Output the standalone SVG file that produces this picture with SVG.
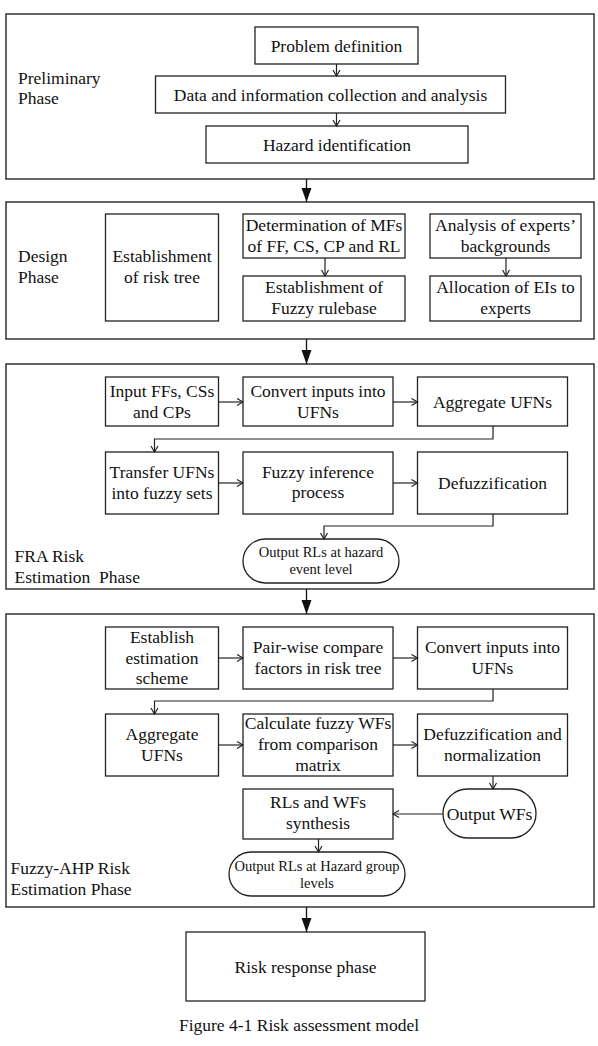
<svg xmlns="http://www.w3.org/2000/svg" width="598" height="1046" viewBox="0 0 598 1046">
<style>
text{font-family:"Liberation Serif","Times New Roman",serif;fill:#111;font-size:17.5px}
.c{text-anchor:middle}
.s{font-size:14.5px}
.ph{fill:none;stroke:#333;stroke-width:1.5}
.bx{fill:#fff;stroke:#222;stroke-width:1.3}
.cn{fill:none;stroke:#222;stroke-width:1.2}
.big{fill:none;stroke:#111;stroke-width:1.3}
</style>
<defs>
<marker id="open" viewBox="-8 -5 9 10" refX="0" refY="0" markerWidth="9" markerHeight="10" markerUnits="userSpaceOnUse" orient="auto">
<path d="M-6,-3.5 L0,0 L-6,3.5" fill="none" stroke="#222" stroke-width="1.2"/>
</marker>
<marker id="solid" viewBox="-15 -6 16 12" refX="0" refY="0" markerWidth="16" markerHeight="12" markerUnits="userSpaceOnUse" orient="auto">
<path d="M-14,-5 L0,0 L-14,5 Z" fill="#111"/>
</marker>
</defs>

<g id="phase-preliminary">
<rect class="ph" x="6" y="14" width="588" height="165"/>
<text x="18" y="84">Preliminary</text>
<text x="18" y="104">Phase</text>
</g>
<g id="phase-design">
<rect class="ph" x="6" y="202" width="588" height="137"/>
<text x="18" y="262">Design</text>
<text x="18" y="283">Phase</text>
</g>
<g id="phase-fra">
<rect class="ph" x="6" y="364" width="588" height="225"/>
<text x="14.5" y="562">FRA Risk</text>
<text x="14.5" y="583" style="white-space:pre">Estimation  Phase</text>
</g>
<g id="phase-ahp">
<rect class="ph" x="6" y="614" width="588" height="293"/>
<text x="10.5" y="874">Fuzzy-AHP Risk</text>
<text x="10.5" y="895">Estimation Phase</text>
</g>

<g id="n-problem"><rect class="bx" x="255" y="27" width="163" height="37"/><text class="c" x="336.5" y="51.5">Problem definition</text></g>
<g id="n-data"><rect class="bx" x="155.5" y="76" width="350" height="37"/><text class="c" x="330.5" y="101">Data and information collection and analysis</text></g>
<g id="n-hazard"><rect class="bx" x="206" y="126" width="262" height="37"/><text class="c" x="337" y="150.5">Hazard identification</text></g>

<g id="n-risktree"><rect class="bx" x="105.5" y="214" width="113" height="107"/><text class="c" x="162" y="262">Establishment</text><text class="c" x="162" y="283">of risk tree</text></g>
<g id="n-mfs"><rect class="bx" x="243" y="214" width="162" height="44"/><text class="c" x="324" y="230.5">Determination of MFs</text><text class="c" x="324" y="251.5">of FF, CS, CP and RL</text></g>
<g id="n-rulebase"><rect class="bx" x="243" y="276" width="162" height="45"/><text class="c" x="324" y="293">Establishment of</text><text class="c" x="324" y="314">Fuzzy rulebase</text></g>
<g id="n-experts"><rect class="bx" x="430" y="214" width="151" height="44"/><text class="c" x="505.5" y="230.5">Analysis of experts’</text><text class="c" x="505.5" y="251.5">backgrounds</text></g>
<g id="n-allocation"><rect class="bx" x="430" y="276" width="151" height="45"/><text class="c" x="505.5" y="293">Allocation of EIs to</text><text class="c" x="505.5" y="314">experts</text></g>

<g id="n-input"><rect class="bx" x="105.5" y="377" width="113" height="49"/><text class="c" x="162" y="397">Input FFs, CSs</text><text class="c" x="162" y="418">and CPs</text></g>
<g id="n-convert1"><rect class="bx" x="243" y="377" width="150" height="49"/><text class="c" x="318" y="397">Convert inputs into</text><text class="c" x="318" y="418">UFNs</text></g>
<g id="n-aggregate1"><rect class="bx" x="417.5" y="377" width="150" height="49"/><text class="c" x="492.5" y="407.5">Aggregate UFNs</text></g>
<g id="n-transfer"><rect class="bx" x="105.5" y="452" width="113" height="62"/><text class="c" x="162" y="478">Transfer UFNs</text><text class="c" x="162" y="499">into fuzzy sets</text></g>
<g id="n-inference"><rect class="bx" x="243" y="452" width="150" height="62"/><text class="c" x="318" y="477.5">Fuzzy inference</text><text class="c" x="318" y="498">process</text></g>
<g id="n-defuzz1"><rect class="bx" x="417.5" y="452" width="150" height="62"/><text class="c" x="492.5" y="489">Defuzzification</text></g>
<g id="n-outrl1"><rect class="bx" x="243" y="539" width="156" height="44" rx="22" ry="22"/><text class="c s" x="321" y="557">Output RLs at hazard</text><text class="c s" x="321" y="574">event level</text></g>

<g id="n-scheme"><rect class="bx" x="105.5" y="627" width="113" height="62"/><text class="c" x="162" y="642.5">Establish</text><text class="c" x="162" y="663.5">estimation</text><text class="c" x="162" y="684">scheme</text></g>
<g id="n-pairwise"><rect class="bx" x="243" y="627" width="150" height="62"/><text class="c" x="318" y="653">Pair-wise compare</text><text class="c" x="318" y="674">factors in risk tree</text></g>
<g id="n-convert2"><rect class="bx" x="417.5" y="627" width="150" height="62"/><text class="c" x="492.5" y="653">Convert inputs into</text><text class="c" x="492.5" y="674">UFNs</text></g>
<g id="n-aggregate2"><rect class="bx" x="105.5" y="714" width="113" height="62"/><text class="c" x="162" y="740">Aggregate</text><text class="c" x="162" y="761">UFNs</text></g>
<g id="n-calcwf"><rect class="bx" x="243" y="714" width="150" height="62"/><text class="c" x="318" y="729">Calculate fuzzy WFs</text><text class="c" x="318" y="750">from comparison</text><text class="c" x="318" y="771">matrix</text></g>
<g id="n-defuzz2"><rect class="bx" x="417.5" y="714" width="150" height="62"/><text class="c" x="492.5" y="740">Defuzzification and</text><text class="c" x="492.5" y="761">normalization</text></g>
<g id="n-outwf"><rect class="bx" x="443" y="789" width="93" height="49" rx="24.5" ry="24.5"/><text class="c" x="489.5" y="820">Output WFs</text></g>
<g id="n-synth"><rect class="bx" x="243" y="789" width="150" height="50"/><text class="c" x="318" y="808">RLs and WFs</text><text class="c" x="318" y="829">synthesis</text></g>
<g id="n-outrl2"><rect class="bx" x="229" y="852" width="176" height="44" rx="22" ry="22"/><text class="c s" x="317" y="870.5">Output RLs at Hazard group</text><text class="c s" x="317" y="887.5">levels</text></g>

<g id="n-response"><rect class="bx" x="186" y="932" width="239" height="69"/><text class="c" x="305.5" y="972.5">Risk response phase</text></g>

<g id="caption"><text class="c" x="299" y="1031" style="font-size:17.5px">Figure 4-1 Risk assessment model</text></g>

<g id="connectors">
<line class="cn" x1="336.5" y1="64" x2="336.5" y2="76" marker-end="url(#open)"/>
<line class="cn" x1="336.5" y1="113" x2="336.5" y2="126" marker-end="url(#open)"/>
<line class="cn" x1="325" y1="258" x2="325" y2="276" marker-end="url(#open)"/>
<line class="cn" x1="506" y1="258" x2="506" y2="276" marker-end="url(#open)"/>
<line class="cn" x1="218.5" y1="402" x2="243" y2="402" marker-end="url(#open)"/>
<line class="cn" x1="393" y1="402" x2="417.5" y2="402" marker-end="url(#open)"/>
<polyline class="cn" points="493,426 493,439 154.5,439 154.5,452" marker-end="url(#open)"/>
<line class="cn" x1="218.5" y1="483" x2="243" y2="483" marker-end="url(#open)"/>
<line class="cn" x1="393" y1="483" x2="417.5" y2="483" marker-end="url(#open)"/>
<polyline class="cn" points="493,514 493,526 324,526 324,539" marker-end="url(#open)"/>
<line class="cn" x1="218.5" y1="658" x2="243" y2="658" marker-end="url(#open)"/>
<line class="cn" x1="393" y1="658" x2="417.5" y2="658" marker-end="url(#open)"/>
<polyline class="cn" points="493,689 493,701 154.5,701 154.5,714" marker-end="url(#open)"/>
<line class="cn" x1="218.5" y1="745" x2="243" y2="745" marker-end="url(#open)"/>
<line class="cn" x1="393" y1="745" x2="417.5" y2="745" marker-end="url(#open)"/>
<line class="cn" x1="493" y1="776" x2="493" y2="789" marker-end="url(#open)"/>
<line class="cn" x1="443" y1="814" x2="393" y2="814" marker-end="url(#open)"/>
<line class="cn" x1="318.5" y1="839" x2="318.5" y2="852" marker-end="url(#open)"/>
<line class="big" x1="306.5" y1="179" x2="306.5" y2="202" marker-end="url(#solid)"/>
<line class="big" x1="306.5" y1="339" x2="306.5" y2="364" marker-end="url(#solid)"/>
<line class="big" x1="306.5" y1="589" x2="306.5" y2="614" marker-end="url(#solid)"/>
<line class="big" x1="306.5" y1="907" x2="306.5" y2="932" marker-end="url(#solid)"/>
</g>
</svg>
